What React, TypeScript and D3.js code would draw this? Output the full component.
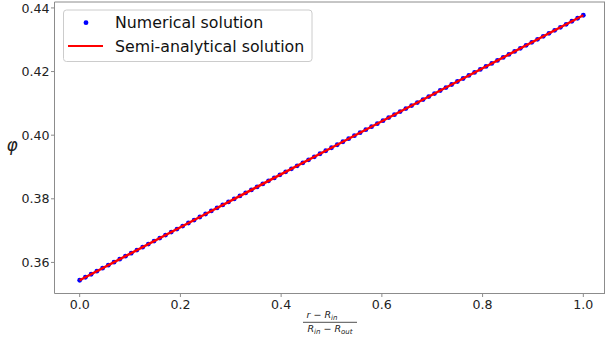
import React from "react";
import * as d3 from "d3";

// Dimensionless radial position samples and the numerically computed φ at each
const numericalPhi = [
  0.3544, 0.35535, 0.35629, 0.35724, 0.35819, 0.35913, 0.36008, 0.36103, 0.36197, 0.36292,
  0.36387, 0.36481, 0.36576, 0.36671, 0.36765, 0.3686, 0.36955, 0.37049, 0.37144, 0.37239,
  0.37333, 0.37428, 0.37523, 0.37618, 0.37712, 0.37807, 0.37901, 0.37996, 0.38091, 0.38185,
  0.3828, 0.38374, 0.38469, 0.38564, 0.38658, 0.38753, 0.38848, 0.38942, 0.39037, 0.39132,
  0.39226, 0.39321, 0.39416, 0.3951, 0.39605, 0.397, 0.39794, 0.39889, 0.39984, 0.40078,
  0.40173, 0.40268, 0.40362, 0.40457, 0.40552, 0.40646, 0.40741, 0.40836, 0.4093, 0.41025,
  0.4112, 0.41214, 0.41309, 0.41404, 0.41498, 0.41593, 0.41688, 0.41782, 0.41877, 0.41972,
  0.42066, 0.42161, 0.42256, 0.4235, 0.42445, 0.4254, 0.42634, 0.42729, 0.42824, 0.42918,
  0.43013, 0.43108, 0.43202, 0.43297, 0.43392, 0.43486, 0.43581, 0.43676, 0.4377,
];

// Semi-analytical solution sampled at a coarser grid
const semiX = [0, 0.25, 0.5, 0.75, 1.0];
const semiPhi = [0.3544, 0.37523, 0.39605, 0.41688, 0.4377];

const xTicks = [0.0, 0.2, 0.4, 0.6, 0.8, 1.0];
const yTicks = [0.36, 0.38, 0.4, 0.42, 0.44];

const W = 605;
const H = 342;
const left = 54.5;
const right = 608.5;
const top = 2;
const bottom = 293.5;
const frameRight = 604.5;

export default function App() {
  const n = numericalPhi.length;
  const numX = numericalPhi.map((_, i) => i / (n - 1));

  const xMin = 0, xMax = 1;
  const xPad = (xMax - xMin) * 0.05;
  const yMin = d3.min(numericalPhi) as number;
  const yMax = d3.max(numericalPhi) as number;
  const yPad = (yMax - yMin) * 0.05;

  const x = d3.scaleLinear().domain([xMin - xPad, xMax + xPad]).range([left, right]);
  const y = d3.scaleLinear().domain([yMin - yPad, yMax + yPad]).range([bottom, top]);

  const line = d3
    .line<number>()
    .x((_, i) => x(semiX[i]))
    .y((d) => y(d));

  const font = "DejaVu Sans, sans-serif";
  const tickFs = 12.6;

  return (
    <svg
      width={W}
      height={H}
      viewBox={`0 0 ${W} ${H}`}
      style={{ position: "absolute", left: 0, top: 0, background: "#fff" }}
      fontFamily={font}
    >
      <rect x={0} y={0} width={W} height={H} fill="#fff" />
      {/* data */}
      <g>
        {numericalPhi.map((v, i) => (
          <circle key={i} cx={x(numX[i])} cy={y(v)} r={2.4} fill="#0000ff" />
        ))}
        <path d={line(semiPhi) || ""} fill="none" stroke="#ff0000" strokeWidth={2.5} />
      </g>

      {/* spines */}
      <g stroke="#8c8c8c" strokeWidth={1}>
        <line x1={left} x2={left} y1={top} y2={bottom} />
        <line x1={left} x2={W} y1={bottom} y2={bottom} />
        <line x1={left} x2={W} y1={top} y2={top} />
        <line x1={frameRight} x2={frameRight} y1={top} y2={bottom} />
      </g>

      {/* x axis */}
      <g>
        {xTicks.map((t) => (
          <g key={t}>
            <line x1={x(t)} x2={x(t)} y1={bottom} y2={bottom + 3.5} stroke="#8c8c8c" strokeWidth={1} />
            <text x={x(t)} y={308.6} fontSize={tickFs} textAnchor="middle" fill="#222">
              {t.toFixed(1)}
            </text>
          </g>
        ))}
      </g>

      {/* y axis */}
      <g>
        {yTicks.map((t) => (
          <g key={t}>
            <line x1={left - 3.5} x2={left} y1={y(t)} y2={y(t)} stroke="#8c8c8c" strokeWidth={1} />
            <text x={49.5} y={y(t) + 4.6} fontSize={tickFs} textAnchor="end" fill="#222">
              {t.toFixed(2)}
            </text>
          </g>
        ))}
      </g>

      {/* y label */}
      <text x={12} y={146} fontSize={17} fontStyle="italic" textAnchor="middle" dominantBaseline="middle" fill="#222">
        φ
      </text>

      {/* x label: (r − R_in) / (R_in − R_out) */}
      <g fill="#222" fontStyle="italic">
        <text x={322} y={318} fontSize={9.5} textAnchor="middle">
          r − R<tspan fontSize={7} dy={2}>in</tspan>
        </text>
        <line x1={303} x2={357} y1={322.3} y2={322.3} stroke="#222" strokeWidth={0.8} />
        <text x={330} y={331.5} fontSize={9.5} textAnchor="middle">
          R<tspan fontSize={7} dy={2}>in</tspan>
          <tspan dy={-2}> − R</tspan>
          <tspan fontSize={7} dy={2}>out</tspan>
        </text>
      </g>

      {/* legend */}
      <g>
        <rect x={63.5} y={10} width={248.5} height={51.5} rx={3} fill="#fff" fillOpacity={0.8} stroke="#cccccc" strokeWidth={1} />
        <circle cx={86} cy={22.7} r={2.4} fill="#0000ff" />
        <text x={115} y={28.3} fontSize={15.8} fill="#111">
          Numerical solution
        </text>
        <line x1={68} x2={103} y1={46} y2={46} stroke="#ff0000" strokeWidth={2} />
        <text x={115} y={51.6} fontSize={15.8} fill="#111">
          Semi-analytical solution
        </text>
      </g>
    </svg>
  );
}
